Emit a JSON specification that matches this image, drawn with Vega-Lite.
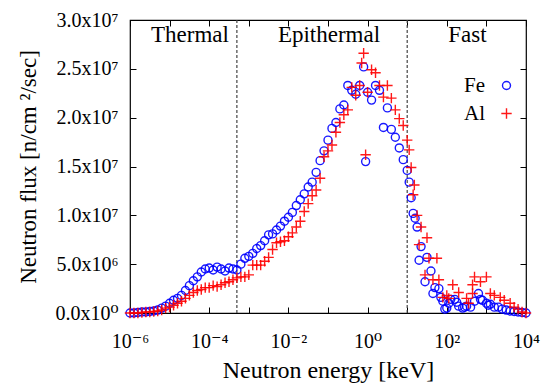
{
  "$schema": "https://vega.github.io/schema/vega-lite/v6.json",
  "width": 396,
  "height": 293,
  "autosize": {"type": "none"},
  "padding": {"left": 130, "top": 20, "right": 16, "bottom": 71},
  "background": "white",
  "config": {
    "font": "Liberation Serif, DejaVu Serif",
    "view": {"stroke": "black", "strokeWidth": 1.2},
    "axis": {"domain": false, "grid": false, "tickColor": "black", "tickWidth": 1, "labelColor": "black", "titleColor": "black", "labelFont": "Liberation Serif, DejaVu Serif", "titleFont": "Liberation Serif, DejaVu Serif", "titleFontWeight": "normal"}
  },
  "datasets": {
    "pts": [
      {"s":"Fe","E":1e-6,"f":0},{"s":"Fe","E":1.259e-6,"f":0},{"s":"Fe","E":1.585e-6,"f":0.05e6},{"s":"Fe","E":1.995e-6,"f":0.1e6},{"s":"Fe","E":2.512e-6,"f":0.1e6},{"s":"Fe","E":3.162e-6,"f":0.15e6},{"s":"Fe","E":3.981e-6,"f":0.2e6},{"s":"Fe","E":5.012e-6,"f":0.3e6},{"s":"Fe","E":6.31e-6,"f":0.5e6},{"s":"Fe","E":7.943e-6,"f":0.7e6},
      {"s":"Fe","E":1e-5,"f":1.0e6},{"s":"Fe","E":1.259e-5,"f":1.3e6},{"s":"Fe","E":1.585e-5,"f":1.5e6},{"s":"Fe","E":1.995e-5,"f":1.8e6},{"s":"Fe","E":2.512e-5,"f":2.3e6},{"s":"Fe","E":3.162e-5,"f":2.8e6},{"s":"Fe","E":3.981e-5,"f":3.3e6},{"s":"Fe","E":5.012e-5,"f":3.7e6},{"s":"Fe","E":6.31e-5,"f":4.2e6},{"s":"Fe","E":7.943e-5,"f":4.5e6},
      {"s":"Fe","E":1e-4,"f":4.6e6},{"s":"Fe","E":1.259e-4,"f":4.4e6},{"s":"Fe","E":1.585e-4,"f":4.7e6},{"s":"Fe","E":1.995e-4,"f":4.5e6},{"s":"Fe","E":2.512e-4,"f":4.3e6},{"s":"Fe","E":3.162e-4,"f":4.6e6},{"s":"Fe","E":3.981e-4,"f":4.5e6},{"s":"Fe","E":5.012e-4,"f":4.4e6},{"s":"Fe","E":6.31e-4,"f":5.0e6},{"s":"Fe","E":7.943e-4,"f":5.6e6},
      {"s":"Fe","E":1e-3,"f":5.8e6},{"s":"Fe","E":1.259e-3,"f":6.1e6},{"s":"Fe","E":1.585e-3,"f":6.6e6},{"s":"Fe","E":1.995e-3,"f":6.9e6},{"s":"Fe","E":2.512e-3,"f":7.4e6},{"s":"Fe","E":3.162e-3,"f":8.0e6},{"s":"Fe","E":3.981e-3,"f":8.1e6},{"s":"Fe","E":5.012e-3,"f":8.5e6},{"s":"Fe","E":6.31e-3,"f":8.9e6},{"s":"Fe","E":7.943e-3,"f":9.4e6},
      {"s":"Fe","E":1e-2,"f":9.8e6},{"s":"Fe","E":1.259e-2,"f":10.3e6},{"s":"Fe","E":1.585e-2,"f":11.0e6},{"s":"Fe","E":1.995e-2,"f":11.6e6},{"s":"Fe","E":2.512e-2,"f":12.2e6},{"s":"Fe","E":3.162e-2,"f":12.9e6},{"s":"Fe","E":3.981e-2,"f":13.4e6},{"s":"Fe","E":5.012e-2,"f":14.4e6},{"s":"Fe","E":6.31e-2,"f":15.6e6},{"s":"Fe","E":7.943e-2,"f":16.6e6},
      {"s":"Fe","E":0.1,"f":17.7e6},{"s":"Fe","E":0.1259,"f":18.9e6},{"s":"Fe","E":0.1585,"f":19.5e6},{"s":"Fe","E":0.1995,"f":20.9e6},{"s":"Fe","E":0.2512,"f":21.3e6},{"s":"Fe","E":0.3162,"f":23.3e6},{"s":"Fe","E":0.3981,"f":22.8e6},{"s":"Fe","E":0.5012,"f":22.4e6},{"s":"Fe","E":0.631,"f":23.3e6},{"s":"Fe","E":0.7943,"f":25.2e6},{"s":"Fe","E":0.8913,"f":15.5e6},
      {"s":"Fe","E":1.0,"f":22.6e6},{"s":"Fe","E":1.259,"f":21.8e6},{"s":"Fe","E":1.585,"f":23.3e6},{"s":"Fe","E":1.995,"f":22.8e6},{"s":"Fe","E":2.512,"f":19.0e6},{"s":"Fe","E":3.162,"f":21.0e6},{"s":"Fe","E":3.981,"f":18.8e6},{"s":"Fe","E":5.012,"f":18.0e6},{"s":"Fe","E":6.31,"f":16.9e6},{"s":"Fe","E":7.943,"f":15.7e6},
      {"s":"Fe","E":10,"f":14.6e6},{"s":"Fe","E":11.22,"f":13.4e6},{"s":"Fe","E":12.59,"f":11.8e6},{"s":"Fe","E":14.13,"f":10.2e6},{"s":"Fe","E":15.85,"f":9.7e6},{"s":"Fe","E":17.78,"f":8.8e6},{"s":"Fe","E":19.95,"f":5.4e6},{"s":"Fe","E":22.39,"f":6.8e6},{"s":"Fe","E":28.18,"f":3.2e6},{"s":"Fe","E":31.62,"f":5.7e6},
      {"s":"Fe","E":39.81,"f":4.3e6},{"s":"Fe","E":44.67,"f":2.0e6},{"s":"Fe","E":50.12,"f":2.6e6},{"s":"Fe","E":63.1,"f":2.5e6},{"s":"Fe","E":70.79,"f":1.6e6},{"s":"Fe","E":79.43,"f":1.2e6},{"s":"Fe","E":89.13,"f":0.4e6},{"s":"Fe","E":100,"f":0.5e6},{"s":"Fe","E":112.2,"f":1.0e6},{"s":"Fe","E":125.9,"f":1.4e6},
      {"s":"Fe","E":158.5,"f":1.4e6},{"s":"Fe","E":177.8,"f":1.1e6},{"s":"Fe","E":199.5,"f":0.7e6},{"s":"Fe","E":251.2,"f":0.5e6},{"s":"Fe","E":281.8,"f":0.6e6},{"s":"Fe","E":316.2,"f":0.7e6},{"s":"Fe","E":398.1,"f":0.6e6},{"s":"Fe","E":501.2,"f":1.2e6},{"s":"Fe","E":631,"f":2.0e6},{"s":"Fe","E":707.9,"f":1.4e6},
      {"s":"Fe","E":794.3,"f":1.3e6},{"s":"Fe","E":1000,"f":1.0e6},{"s":"Fe","E":1122,"f":0.8e6},{"s":"Fe","E":1259,"f":0.9e6},{"s":"Fe","E":1585,"f":0.6e6},{"s":"Fe","E":1995,"f":0.6e6},{"s":"Fe","E":2512,"f":0.4e6},{"s":"Fe","E":3162,"f":0.3e6},{"s":"Fe","E":3981,"f":0.2e6},{"s":"Fe","E":5012,"f":0.15e6},{"s":"Fe","E":6310,"f":0.1e6},{"s":"Fe","E":7943,"f":0.05e6},{"s":"Fe","E":10000,"f":0},

      {"s":"Al","E":1e-6,"f":0},{"s":"Al","E":1.259e-6,"f":0},{"s":"Al","E":1.585e-6,"f":0},{"s":"Al","E":1.995e-6,"f":0.05e6},{"s":"Al","E":2.512e-6,"f":0.1e6},{"s":"Al","E":3.162e-6,"f":0.1e6},{"s":"Al","E":3.981e-6,"f":0.15e6},{"s":"Al","E":5.012e-6,"f":0.2e6},{"s":"Al","E":6.31e-6,"f":0.3e6},{"s":"Al","E":7.943e-6,"f":0.5e6},
      {"s":"Al","E":1e-5,"f":0.6e6},{"s":"Al","E":1.259e-5,"f":0.8e6},{"s":"Al","E":1.585e-5,"f":1.0e6},{"s":"Al","E":1.995e-5,"f":1.2e6},{"s":"Al","E":2.512e-5,"f":1.5e6},{"s":"Al","E":3.162e-5,"f":1.8e6},{"s":"Al","E":3.981e-5,"f":2.1e6},{"s":"Al","E":5.012e-5,"f":2.3e6},{"s":"Al","E":6.31e-5,"f":2.4e6},{"s":"Al","E":7.943e-5,"f":2.6e6},
      {"s":"Al","E":1e-4,"f":2.6e6},{"s":"Al","E":1.259e-4,"f":2.8e6},{"s":"Al","E":1.585e-4,"f":2.7e6},{"s":"Al","E":1.995e-4,"f":2.9e6},{"s":"Al","E":2.512e-4,"f":3.1e6},{"s":"Al","E":3.162e-4,"f":3.2e6},{"s":"Al","E":3.981e-4,"f":3.4e6},{"s":"Al","E":5.012e-4,"f":3.6e6},{"s":"Al","E":6.31e-4,"f":3.7e6},{"s":"Al","E":7.943e-4,"f":3.7e6},
      {"s":"Al","E":1e-3,"f":3.9e6},{"s":"Al","E":1.259e-3,"f":4.9e6},{"s":"Al","E":1.585e-3,"f":4.9e6},{"s":"Al","E":1.995e-3,"f":4.9e6},{"s":"Al","E":2.512e-3,"f":5.3e6},{"s":"Al","E":3.162e-3,"f":5.7e6},{"s":"Al","E":3.981e-3,"f":6.5e6},{"s":"Al","E":5.012e-3,"f":7.2e6},{"s":"Al","E":6.31e-3,"f":7.3e6},{"s":"Al","E":7.943e-3,"f":7.4e6},
      {"s":"Al","E":1e-2,"f":7.8e6},{"s":"Al","E":1.259e-2,"f":8.2e6},{"s":"Al","E":1.585e-2,"f":8.8e6},{"s":"Al","E":1.995e-2,"f":9.4e6},{"s":"Al","E":2.512e-2,"f":10.4e6},{"s":"Al","E":3.162e-2,"f":11.2e6},{"s":"Al","E":3.981e-2,"f":12.0e6},{"s":"Al","E":5.012e-2,"f":12.6e6},{"s":"Al","E":6.31e-2,"f":13.8e6},{"s":"Al","E":7.943e-2,"f":16.0e6},
      {"s":"Al","E":0.1,"f":16.6e6},{"s":"Al","E":0.1259,"f":17.2e6},{"s":"Al","E":0.1585,"f":18.5e6},{"s":"Al","E":0.1995,"f":19.5e6},{"s":"Al","E":0.2512,"f":20.3e6},{"s":"Al","E":0.3162,"f":20.8e6},{"s":"Al","E":0.3981,"f":23.1e6},{"s":"Al","E":0.5012,"f":22.3e6},{"s":"Al","E":0.631,"f":23.3e6},{"s":"Al","E":0.7079,"f":25.6e6},{"s":"Al","E":0.7943,"f":26.6e6},{"s":"Al","E":0.8913,"f":16.2e6},
      {"s":"Al","E":1.0,"f":22.6e6},{"s":"Al","E":1.259,"f":24.9e6},{"s":"Al","E":1.585,"f":24.6e6},{"s":"Al","E":1.995,"f":23.3e6},{"s":"Al","E":2.512,"f":22.1e6},{"s":"Al","E":3.162,"f":23.3e6},{"s":"Al","E":3.981,"f":22.0e6},{"s":"Al","E":5.012,"f":20.8e6},{"s":"Al","E":6.31,"f":19.9e6},{"s":"Al","E":7.943,"f":19.2e6},
      {"s":"Al","E":10,"f":17.7e6},{"s":"Al","E":11.22,"f":16.7e6},{"s":"Al","E":12.59,"f":14.9e6},{"s":"Al","E":14.13,"f":12.1e6},{"s":"Al","E":15.14,"f":13.1e6},{"s":"Al","E":17.78,"f":10.0e6},{"s":"Al","E":19.95,"f":7.0e6},{"s":"Al","E":22.39,"f":8.8e6},{"s":"Al","E":28.18,"f":3.9e6},{"s":"Al","E":31.62,"f":7.7e6},
      {"s":"Al","E":35.48,"f":5.6e6},{"s":"Al","E":44.67,"f":3.4e6},{"s":"Al","E":56.23,"f":5.6e6},{"s":"Al","E":63.1,"f":3.4e6},{"s":"Al","E":79.43,"f":1.6e6},{"s":"Al","E":100,"f":1.8e6},{"s":"Al","E":112.2,"f":1.5e6},{"s":"Al","E":141.3,"f":2.9e6},{"s":"Al","E":199.5,"f":2.1e6},{"s":"Al","E":316.2,"f":1.5e6},
      {"s":"Al","E":354.8,"f":1.0e6},{"s":"Al","E":446.7,"f":2.0e6},{"s":"Al","E":446.7,"f":2.9e6},{"s":"Al","E":501.2,"f":3.7e6},{"s":"Al","E":707.9,"f":3.2e6},{"s":"Al","E":1000,"f":3.7e6},{"s":"Al","E":1259,"f":2.0e6},{"s":"Al","E":1585,"f":1.8e6},{"s":"Al","E":2239,"f":1.6e6},{"s":"Al","E":2818,"f":1.3e6},
      {"s":"Al","E":3981,"f":1.0e6},{"s":"Al","E":5012,"f":0.6e6},{"s":"Al","E":6310,"f":0.4e6},{"s":"Al","E":7943,"f":0.1e6},{"s":"Al","E":10000,"f":0}
    ],
    "bounds": [{"B": 5e-4}, {"B": 10}],
    "regions": [
      {"region": "Thermal", "E": 3.27e-5, "f": 28.45e6},
      {"region": "Epithermal", "E": 0.106, "f": 28.45e6},
      {"region": "Fast", "E": 333, "f": 28.45e6}
    ]
  },
  "layer": [
    {
      "data": {"name": "bounds"},
      "mark": {"type": "rule", "color": "#444444", "strokeWidth": 1.2, "strokeDash": [3, 2]},
      "encoding": {
        "x": {"field": "B", "type": "quantitative", "scale": {"type": "log", "domain": [1e-6, 1e4], "nice": false},
              "axis": {"orient": "top", "values": [1e-6,1e-5,1e-4,1e-3,1e-2,1e-1,1,10,100,1000,10000], "labels": false, "title": null, "tickSize": -6}}
      }
    },
    {
      "data": {"name": "pts"},
      "mark": {"type": "point", "filled": false, "strokeWidth": 1.4, "size": 64, "opacity": 0.9},
      "encoding": {
        "x": {"field": "E", "type": "quantitative", "scale": {"type": "log", "domain": [1e-6, 1e4], "nice": false},
              "axis": {"orient": "bottom", "values": [1e-6,1e-5,1e-4,1e-3,1e-2,1e-1,1,10,100,1000,10000], "tickSize": -6, "labelPadding": 24, "labelFontSize": 20, "labelFlush": false, "labelOverlap": false,
                       "labelExpr": "round(log(datum.value)/LN10) == -6 ? '10⁻⁶' : round(log(datum.value)/LN10) == -4 ? '10⁻⁴' : round(log(datum.value)/LN10) == -2 ? '10⁻²' : round(log(datum.value)/LN10) == 0 ? '10⁰' : round(log(datum.value)/LN10) == 2 ? '10²' : round(log(datum.value)/LN10) == 4 ? '10⁴' : ''",
                       "title": "Neutron energy [keV]", "titleFontSize": 24, "titlePadding": 7}},
        "y": {"field": "f", "type": "quantitative", "scale": {"domain": [0, 3e7], "nice": false},
              "axis": {"orient": "left", "values": [0, 5e6, 1e7, 1.5e7, 2e7, 2.5e7, 3e7], "tickSize": -6, "labelPadding": 18, "labelFontSize": 20,
                       "labelExpr": "datum.value == 0 ? '0.0x10⁰' : datum.value < 9e6 ? '5.0x10⁶' : format(datum.value/1e7, '.1f') + 'x10⁷'",
                       "title": "Neutron flux [n/cm ²/sec]", "titleFontSize": 23, "titlePadding": 14}},
        "color": {"field": "s", "type": "nominal", "scale": {"domain": ["Fe", "Al"], "range": ["#0000ff", "#ff0000"]},
                  "legend": {"orient": "none", "legendX": 366, "legendY": 55, "title": null, "labelAlign": "right", "labelOffset": -32, "labelFontSize": 21, "labelColor": "black", "labelFont": "Liberation Serif", "rowPadding": 6, "padding": 0, "symbolStrokeWidth": 1.4, "symbolSize": 64}},
        "shape": {"field": "s", "type": "nominal", "scale": {"domain": ["Fe", "Al"], "range": ["circle", "M-1.3,0L1.3,0M0,-1.3L0,1.3"]},
                  "legend": {"orient": "none", "legendX": 366, "legendY": 55, "title": null, "labelAlign": "right", "labelOffset": -32, "labelFontSize": 21, "labelColor": "black", "labelFont": "Liberation Serif", "rowPadding": 6, "padding": 0, "symbolStrokeWidth": 1.4, "symbolSize": 64}}
      }
    },
    {
      "data": {"name": "regions"},
      "mark": {"type": "text", "fontSize": 23, "font": "Liberation Serif", "color": "black", "baseline": "middle", "align": "center"},
      "encoding": {
        "x": {"field": "E", "type": "quantitative", "scale": {"type": "log", "domain": [1e-6, 1e4], "nice": false}, "axis": null},
        "y": {"field": "f", "type": "quantitative", "scale": {"domain": [0, 3e7], "nice": false},
              "axis": {"orient": "right", "values": [0, 5e6, 1e7, 1.5e7, 2e7, 2.5e7, 3e7], "labels": false, "title": null, "tickSize": -6}},
        "text": {"field": "region", "type": "nominal"}
      }
    }
  ],
  "resolve": {"axis": {"x": "independent", "y": "independent"}}
}
